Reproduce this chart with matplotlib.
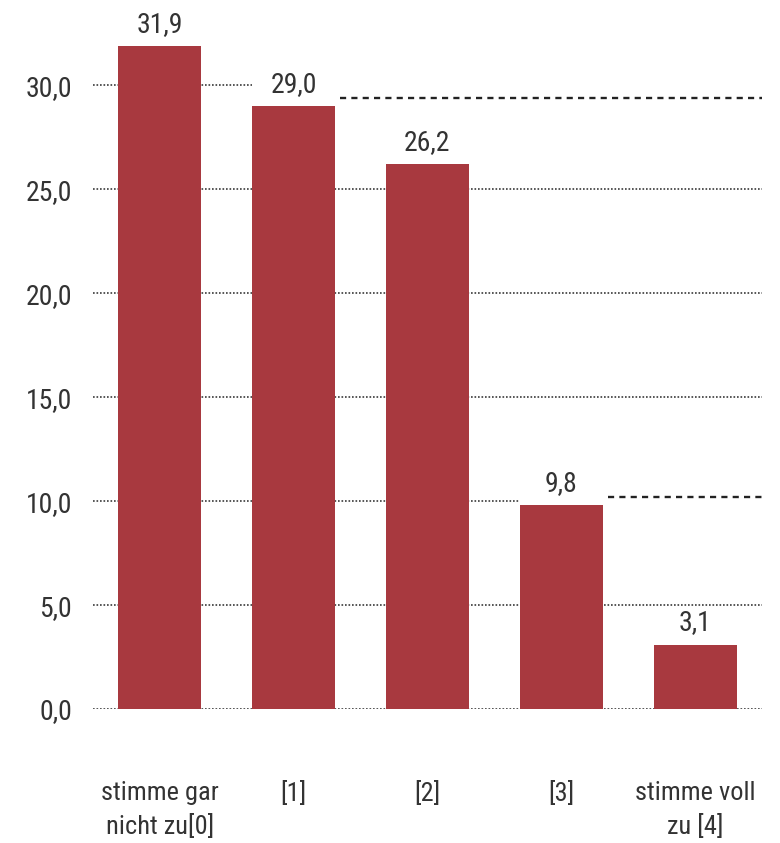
import numpy as np
from matplotlib import pyplot as plt

categories = ['stimme gar\nnicht zu[0]', '[1]', '[2]', '[3]', 'stimme voll\nzu [4]']
values = [31.9, 29.0, 26.2, 9.8, 3.1]
value_labels = ['31,9', '29,0', '26,2', '9,8', '3,1']
yticks = [0, 5, 10, 15, 20, 25, 30]
ytick_labels = ['0,0', '5,0', '10,0', '15,0', '20,0', '25,0', '30,0']
# reference lines: value, bar index they start after
ref_values = [29.4, 10.2]
ref_after = [1, 3]

plt.rcParams['font.family'] = ['Liberation Sans Narrow', 'Roboto Condensed', 'Liberation Sans', 'DejaVu Sans']
txt = '#333333'
bar_c = '#a8393f'
w = 0.62

fig = plt.figure(figsize=(7.8, 8.43), dpi=100)
ax = fig.add_axes([0.119, 0.159, 0.858, 0.826])
x = np.arange(len(values))
ax.set_xlim(-0.5, 4.5)
ax.set_ylim(0, 33.5)

# dotted grid, cut where a reference line takes over
for t in yticks:
    xmax = 4.5
    for rv, ri in zip(ref_values, ref_after):
        if abs(t - rv) < 1:
            xmax = ri - w / 2
    ax.hlines(t, -0.5, xmax, colors='#3a3a3a', linestyles=(0, (1, 1.1)), lw=1.2, zorder=1)

ax.bar(x, values, width=w, color=bar_c, zorder=2)

for rv, ri in zip(ref_values, ref_after):
    ax.hlines(rv, ri + w / 2 + 0.04, 4.5, colors='#222222', linestyles=(0, (2.6, 2.2)), lw=1.7, zorder=3)

for xi, v, lab in zip(x, values, value_labels):
    ax.annotate(lab, (xi, v), xytext=(0, 6), textcoords='offset points',
                ha='center', va='bottom', fontsize=20, color=txt)

ax.set_yticks(yticks)
ax.set_yticklabels(ytick_labels, fontsize=20, color=txt)
ax.set_xticks(x)
ax.set_xticklabels(categories, fontsize=19, color=txt, linespacing=1.45)
ax.tick_params(length=0)
ax.tick_params(axis='y', pad=15)
ax.tick_params(axis='x', pad=52)
for s in ax.spines.values():
    s.set_visible(False)

fig.savefig('out.png', dpi=100)
